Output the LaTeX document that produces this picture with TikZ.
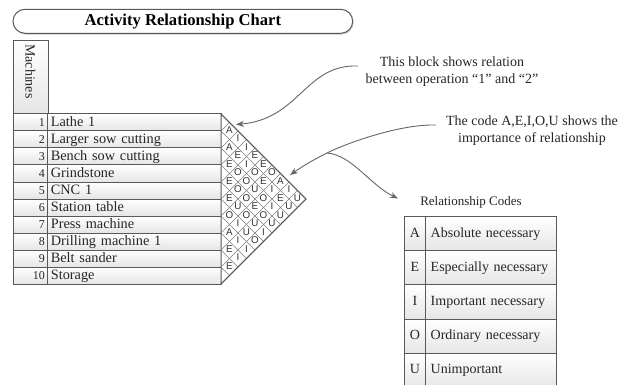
\documentclass[tikz,border=0pt]{standalone}
\usepackage{fontspec}
\setmainfont{Liberation Serif}
\newfontfamily\gridfont{Liberation Sans}
\usetikzlibrary{arrows.meta,shadows}
\begin{document}
\begin{tikzpicture}[x=1pt,y=-1pt,
  line/.style={draw=black!65, line width=1pt},
  cell/.style={line, rectangle, top color=white, bottom color=black!10, inner sep=0pt, text=black!85},
  numcell/.style={cell, minimum width=34.7pt, minimum height=17pt, text width=29pt, align=right, text height=9.5pt, text depth=1.5pt, font=\fontsize{12}{12}\selectfont},
  namecell/.style={cell, minimum width=173.3pt, minimum height=17pt, text width=167pt, align=left, text height=10.5pt, text depth=2pt, font=\fontsize{14.3}{14.3}\selectfont},
  gridline/.style={draw=black!50, line width=0.6pt},
  gridletter/.style={inner sep=0pt, font=\gridfont\fontsize{9.8}{9.8}\selectfont, text=black!80},
  codeletter/.style={cell, minimum width=21.7pt, minimum height=34.15pt, text height=9.5pt, text depth=3pt, font=\fontsize{14}{14}\selectfont},
  codedesc/.style={cell, minimum width=131pt, minimum height=34.15pt, text width=121pt, align=left, text height=9.5pt, text depth=3pt, font=\fontsize{14}{14}\selectfont},
  note/.style={align=center, inner sep=0pt, text=black!85, font=\fontsize{14}{17}\selectfont},
  arrow/.style={draw=black!60, line width=0.9pt, -{Stealth[length=8pt,width=6pt]}}
]
\useasboundingbox (0,0) rectangle (632,385);
\clip (0,0) rectangle (632,385);
\fill[white] (0,0) rectangle (632,385);

% title
\node[line, fill=white, rounded corners=12pt, minimum width=339.7pt, minimum height=24pt,
  font=\bfseries\fontsize{16.6}{16.6}\selectfont, inner sep=0pt,
  drop shadow={shadow xshift=1pt, shadow yshift=-1.5pt, opacity=0.3}] (title) at (182.85,21.3) {Activity Relationship Chart};

% machines header
\node[cell, minimum width=34.7pt, minimum height=74pt, anchor=north west] (mh) at (13,40) {};
\node[rotate=-90, anchor=west, inner sep=0pt, font=\fontsize{14}{14}\selectfont, text=black!85] (mt) at (30.3,44) {Machines};

% rows
\foreach \i/\name in {1/Lathe 1,2/Larger sow cutting,3/Bench sow cutting,4/Grindstone,5/CNC 1,6/Station table,7/Press machine,8/Drilling machine 1,9/Belt sander,10/Storage}{
  \node[numcell] (n\i) at (30.35,{105.5+17*\i}) {\i};
  \node[namecell] (r\i) at (134.35,{105.5+17*\i}) {\name};
}

% triangle
\filldraw[line, fill=white] (221,114) -- (306,199) -- (221,284) -- cycle;
\foreach \i in {1,...,9}{
  \pgfmathsetmacro{\yy}{114+17*\i}
  \pgfmathsetmacro{\ta}{(284-\yy)/2}
  \pgfmathsetmacro{\tb}{(\yy-114)/2}
  \draw[gridline] (221,\yy) -- ++(\ta,\ta);
  \draw[gridline] (221,\yy) -- ++(\tb,-\tb);
}
\draw[line] (221,114) -- (306,199) -- (221,284);

% letters
\foreach \k/\m/\L in {0/0/A,1/1/I,0/2/A,2/2/I,1/3/E,3/3/E,0/4/E,2/4/I,4/4/E,
  1/5/O,3/5/O,5/5/O,0/6/E,2/6/O,4/6/E,6/6/A,1/7/O,3/7/U,5/7/I,7/7/I,
  0/8/E,2/8/O,4/8/O,6/8/E,8/8/U,1/9/U,3/9/E,5/9/I,7/9/U,
  0/10/O,2/10/O,4/10/O,6/10/U,1/11/I,3/11/U,5/11/U,
  0/12/A,2/12/U,4/12/I,1/13/I,3/13/O,0/14/E,2/14/I,1/15/I,0/16/E}{
  \node[gridletter] (g\k-\m) at ({229.5+8.5*\k},{129.8+8.5*\m}) {\L};
}

% notes
\node[note] (ann1) at (452,71.5) {This block shows relation\\between operation “1” and “2”};
\node[note] (ann2) at (532,131) {The code A,E,I,O,U shows the\\importance of relationship};
\node[inner sep=0pt, text=black!85, font=\fontsize{13}{13}\selectfont] (rct) at (471,202) {Relationship Codes};

% code table
\foreach \j/\c/\d in {1/A/Absolute necessary,2/E/Especially necessary,3/I/Important necessary,4/O/Ordinary necessary,5/U/Unimportant}{
  \node[codeletter] (c\j) at (414.85,{199.6+34.15*\j}) {\c};
  \node[codedesc] (d\j) at (491.2,{199.6+34.15*\j}) {\d};
}

% arrows
\coordinate (s1) at (358,66);
\coordinate (t1) at (236,124.5);
\coordinate (s2) at (436,125);
\coordinate (b2) at (327,153);
\coordinate (t2) at (290,175);
\coordinate (t3) at (398,198.5);
\draw[arrow] (s1) .. controls (305,64) and (300,119) .. (t1);
\draw[draw=black!60, line width=0.9pt] (s2) .. controls (400,124) and (347,143) .. (b2);
\draw[arrow] (b2) .. controls (311,161) and (300,168) .. (t2);
\draw[arrow] (b2) .. controls (352,155) and (370,185) .. (t3);
\end{tikzpicture}
\end{document}
